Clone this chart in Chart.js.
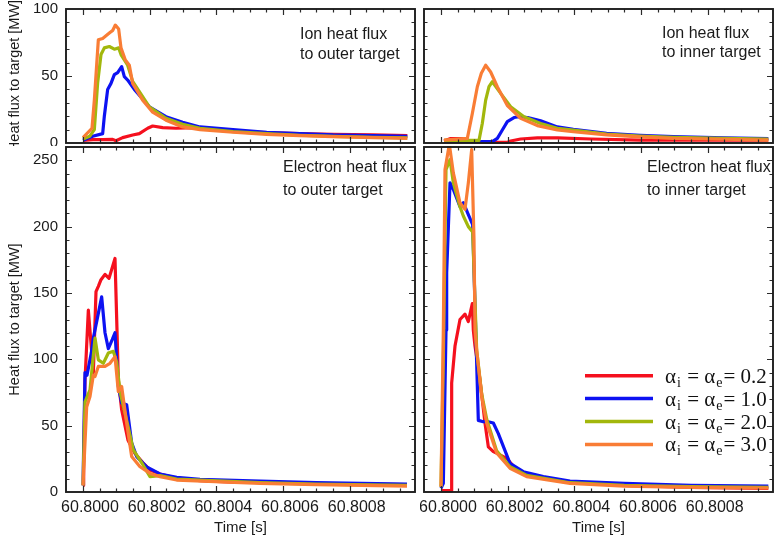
<!DOCTYPE html>
<html>
<head>
<meta charset="utf-8">
<script src="https://cdn.jsdelivr.net/npm/chart.js@4"></script>
<style>
  body { margin: 0; background: #fff; }
  #wrap { position: relative; width: 774px; height: 537px; overflow: hidden; }
  canvas { position: absolute; }
</style>
</head>
<body>
<div id="wrap">
  <canvas id="ionOuter" width="420" height="146" style="left:0;top:0"></canvas>
  <canvas id="ionInner" width="354" height="146" style="left:420px;top:0"></canvas>
  <canvas id="elecOuter" width="420" height="391" style="left:0;top:146px"></canvas>
  <canvas id="elecInner" width="354" height="391" style="left:420px;top:146px"></canvas>
</div>
<script>
// time is in microseconds after 60.8 s, values in MW
const xTickValues = [0, 200, 400, 600, 800];
const xTickLabels = ['60.8000', '60.8002', '60.8004', '60.8006', '60.8008'];
const ionTicks = [0, 50, 100];
const elecTicks = [0, 50, 100, 150, 200, 250];
const alphas = ['0.2', '1.0', '2.0', '3.0'];

// Ion heat flux to outer target
const ionOuter02 = [[0,2],[30,2.5],[60,2.5],[89,2.7],[99,1.7],[119,4],[149,6],[169,7],[194,11],[209,12.7],[239,11.5],[279,11],[339,11.5],[400,10],[470,8.5],[550,7.8],[650,7],[750,6.5],[870,6],[973,5.5]];
const ionOuter10 = [[0,2],[29,5],[59,7],[64,20],[74,40],[84,44.5],[94,51],[104,52.5],[116,57],[124,49.5],[134,47],[154,40],[199,27],[249,19.6],[299,15.5],[351,12],[450,10],[551,8],[650,7],[750,6],[870,5.5],[973,5]];
const ionOuter20 = [[0,3],[20,5],[34,10],[44,45],[54,66],[64,71],[79,72],[94,70],[107,71],[114,66],[134,58],[149,46],[199,27],[249,18.5],[299,14],[351,11],[450,8.5],[551,7],[650,5.8],[750,5],[870,4.3],[973,3.8]];
const ionOuter30 = [[0,4],[27,11],[34,32],[46,77],[59,78],[79,82],[89,84],[97,88],[107,85],[114,71],[127,62],[139,58],[149,44.5],[179,32],[209,23],[249,17],[299,12],[351,10],[450,8],[551,6.5],[650,5.5],[750,4.8],[870,4],[973,3.5]];

// Ion heat flux to inner target
const ionInner02 = [[9,1.5],[27,3.2],[69,3.2],[89,1],[150,0.5],[200,0.5],[209,1.5],[239,3],[289,3.8],[350,3.8],[450,3],[597,2.2],[800,2.2],[982,2.2]];
const ionInner10 = [[9,1],[100,1],[154,1],[169,3.5],[184,9.7],[199,16],[219,19],[234,19.6],[260,19],[299,16.6],[349,12],[397,10.2],[497,7.2],[597,5.8],[697,4.7],[850,3.8],[982,3.2]];
const ionInner20 = [[9,2],[100,2],[114,2],[124,14.7],[134,32],[144,42],[154,45.7],[179,37],[209,27],[249,19.6],[299,14.5],[349,11],[397,9.7],[497,6.7],[597,5.2],[697,4.2],[850,3.5],[982,3]];
const ionInner30 = [[9,2.2],[79,3.5],[94,22],[109,42],[121,52],[134,58],[149,53],[169,42],[199,28],[239,18.4],[289,13],[349,9.7],[397,8.4],[497,6],[597,4.6],[697,3.5],[850,2.8],[982,2.2]];

// Electron heat flux to outer target
const elecOuter02 = [[0,5],[2,16],[6,84],[16,137],[31,90],[39,151],[46,155],[54,160],[66,164],[78,161],[96,176],[102,122],[106,84.5],[116,62],[135,39],[156,29],[180,22],[201,16.6],[231,13.6],[279,10.6],[351,8.5],[450,7.5],[531,7.5],[650,6.5],[800,6],[972,5.5]];
const elecOuter10 = [[0,5],[6,90],[12,88],[25,105],[31,116],[56,147],[66,120],[76,108],[88,115],[96,120],[106,79.5],[116,67],[131,65.7],[146,37],[161,26.7],[191,19],[231,13.6],[281,11],[351,9.5],[531,8.3],[700,7],[972,6]];
const elecOuter20 = [[0,5],[6,68],[21,77],[36,116],[46,99.6],[61,97],[76,104.7],[91,106],[101,98],[111,75.7],[131,54],[151,31.7],[181,20],[201,11.6],[231,12.3],[281,9.8],[531,7],[700,6],[972,5]];
const elecOuter30 = [[0,5],[11,64],[21,72],[31,88],[36,87],[46,94.6],[66,94.6],[81,97],[96,102],[106,75.7],[116,79.5],[131,52],[146,26.7],[171,19],[201,14],[231,11.6],[281,9],[531,6.5],[700,5.5],[972,4.5]];

// Electron heat flux to inner target
const elecInner02 = [[0,1],[30,1],[32,82],[42,110],[57,130],[72,134],[82,128.5],[94,142],[97,122],[102,110],[117,84.5],[132,52],[142,34],[157,30.4],[177,28],[197,25.4],[227,16.6],[257,12.8],[387,7.3],[550,5],[750,3.5],[982,2.8]];
const elecInner10 = [[0,2.8],[7,6.5],[15,122],[17,165],[27,233],[37,228],[57,215],[67,218],[82,209],[95,201.5],[112,54],[127,53],[142,53],[157,52],[172,44],[207,21.6],[247,15.3],[307,11.6],[387,8.3],[550,6.5],[750,5],[982,4.5]];
const elecInner20 = [[0,4],[7,100],[15,243],[27,250.5],[37,233],[57,215],[67,208],[82,200],[95,196],[107,107],[122,74],[137,55],[167,31],[207,19],[257,12.5],[387,7],[550,5],[750,4],[982,3.5]];
const elecInner30 = [[0,4],[7,122],[12,243],[25,262],[37,240.5],[57,218],[72,213],[82,233],[92,258],[99,190],[102,122],[107,107],[122,72],[137,52],[167,29.4],[207,17.9],[257,11.6],[387,6.5],[550,4.5],[750,3.5],[982,3]];

const colors = ['#f5101e', '#0d12f2', '#a2b70c', '#f97d35'];
const FONT = '"Liberation Sans", Arial, sans-serif';
const SERIF = '"Liberation Serif", "Times New Roman", serif';

// box around the plot area, with inward major/minor ticks on all four sides
const framePlugin = {
  id: 'frame',
  afterDatasetsDraw(chart) {
    const { ctx, chartArea: a, scales: { x, y } } = chart;
    ctx.save();
    ctx.strokeStyle = '#2b2b2b';
    ctx.lineWidth = 1.2;
    ctx.beginPath();
    for (let t = 0; t < x.max; t += 50) {
      const px = Math.round(x.getPixelForValue(t)) + 0.5;
      const len = t % 200 === 0 ? 6 : 3.5;
      ctx.moveTo(px, a.bottom); ctx.lineTo(px, a.bottom - len);
      ctx.moveTo(px, a.top); ctx.lineTo(px, a.top + len);
    }
    for (let v = 10; v < y.max; v += 10) {
      const py = Math.round(y.getPixelForValue(v)) + 0.5;
      const len = v % 50 === 0 ? 6 : 3.5;
      ctx.moveTo(a.left, py); ctx.lineTo(a.left + len, py);
      ctx.moveTo(a.right, py); ctx.lineTo(a.right - len, py);
    }
    ctx.stroke();
    ctx.lineWidth = 1.9;
    ctx.strokeStyle = '#1e1e1e';
    ctx.strokeRect(a.left, a.top, a.right - a.left, a.bottom - a.top);
    ctx.restore();
  }
};

// panel captions
const notesPlugin = {
  id: 'notes',
  afterDraw(chart, args, opts) {
    const ctx = chart.ctx;
    ctx.save();
    ctx.fillStyle = '#1a1a1a';
    ctx.font = '16px ' + FONT;
    ctx.textBaseline = 'alphabetic';
    (opts.lines || []).forEach(l => ctx.fillText(l.text, l.x, l.y));
    ctx.restore();
  }
};

// legend with subscripts (alpha_i = alpha_e = ...)
const alphaLegend = {
  id: 'alphaLegend',
  afterDraw(chart, args, opts) {
    if (!opts.show) return;
    const ctx = chart.ctx;
    ctx.save();
    chart.data.datasets.forEach((ds, i) => {
      const yy = opts.y + i * opts.step;
      ctx.strokeStyle = ds.borderColor;
      ctx.lineWidth = 3.5;
      ctx.beginPath();
      ctx.moveTo(opts.x1, yy); ctx.lineTo(opts.x2, yy);
      ctx.stroke();

      ctx.fillStyle = '#111';
      ctx.textBaseline = 'alphabetic';
      const base = yy + 7;
      let x = opts.tx;
      const big = s => { ctx.font = '21px ' + SERIF; ctx.fillText(s, x, base); x += ctx.measureText(s).width; };
      const sub = s => { ctx.font = '14px ' + SERIF; ctx.fillText(s, x + 1, base + 4); x += ctx.measureText(s).width + 2; };
      big('\u03b1'); sub('i'); big(' = '); big('\u03b1'); sub('e'); big('= ' + ds.label);
    });
    ctx.restore();
  }
};

// keep the plot areas exactly where the panels sit
function pinScale(s, size) {
  if (s.isHorizontal()) s.height = size; else s.width = size;
  s.paddingLeft = 0; s.paddingRight = 0; s.paddingTop = 0; s.paddingBottom = 0;
}

function makePanel(id, series, cfg) {
  return new Chart(document.getElementById(id), {
    type: 'line',
    data: {
      datasets: series.map((s, i) => ({
        label: alphas[i],
        data: s.map(p => ({ x: p[0], y: p[1] })),
        borderColor: colors[i],
        borderWidth: 3.2,
        pointRadius: 0,
        tension: 0,
        borderJoinStyle: 'round',
        order: 3 - i,
        clip: 4
      }))
    },
    options: {
      responsive: false,
      animation: false,
      devicePixelRatio: 1,
      layout: { padding: cfg.padding, autoPadding: false },
      plugins: {
        legend: { display: false },
        tooltip: { enabled: false },
        notes: { lines: cfg.notes },
        alphaLegend: cfg.legend || { show: false }
      },
      scales: {
        x: {
          type: 'linear',
          min: -51,
          max: 996,
          afterBuildTicks: s => { s.ticks = xTickValues.map(v => ({ value: v })); },
          afterFit: s => pinScale(s, cfg.xHeight),
          grid: { display: false, drawTicks: false },
          border: { display: false },
          ticks: {
            display: cfg.xLabels,
            autoSkip: false,
            maxRotation: 0,
            padding: 6,
            labelOffset: 7,
            color: '#1a1a1a',
            font: { size: 16, family: FONT },
            callback: (v, i) => xTickLabels[i]
          },
          title: {
            display: cfg.xLabels,
            text: 'Time [s]',
            color: '#1a1a1a',
            font: { size: 15, family: FONT },
            padding: { top: 1, bottom: 0 }
          }
        },
        y: {
          min: 0,
          max: cfg.yMax,
          afterBuildTicks: s => { s.ticks = cfg.yTicks.map(v => ({ value: v })); },
          afterFit: s => pinScale(s, cfg.yWidth),
          grid: { display: false, drawTicks: false },
          border: { display: false },
          ticks: {
            display: cfg.yLabels,
            padding: 8,
            color: '#1a1a1a',
            font: { size: 15, family: FONT }
          },
          title: {
            display: cfg.yLabels,
            text: 'Heat flux to target [MW]',
            color: '#1a1a1a',
            font: { size: 14.5, family: FONT },
            padding: { top: 6, bottom: 0 }
          }
        }
      }
    },
    plugins: [framePlugin, notesPlugin, alphaLegend]
  });
}

makePanel('ionOuter', [ionOuter02, ionOuter10, ionOuter20, ionOuter30], {
  padding: { top: 9, right: 5, left: 0, bottom: 0 },
  yMax: 100, yTicks: ionTicks, yWidth: 66, yLabels: true, xHeight: 3, xLabels: false,
  notes: [{ text: 'Ion heat flux', x: 300, y: 38.5 }, { text: 'to outer target', x: 300, y: 58.5 }]
});
makePanel('ionInner', [ionInner02, ionInner10, ionInner20, ionInner30], {
  padding: { top: 9, right: 1, left: 0, bottom: 0 },
  yMax: 100, yTicks: ionTicks, yWidth: 4, yLabels: false, xHeight: 3, xLabels: false,
  notes: [{ text: 'Ion heat flux', x: 242, y: 37.5 }, { text: 'to inner target', x: 242, y: 57 }]
});
makePanel('elecOuter', [elecOuter02, elecOuter10, elecOuter20, elecOuter30], {
  padding: { top: 1, right: 5, left: 0, bottom: 0 },
  yMax: 260, yTicks: elecTicks, yWidth: 66, yLabels: true, xHeight: 45, xLabels: true,
  notes: [{ text: 'Electron heat flux', x: 283, y: 25.5 }, { text: 'to outer target', x: 283, y: 49 }]
});
makePanel('elecInner', [elecInner02, elecInner10, elecInner20, elecInner30], {
  padding: { top: 1, right: 1, left: 0, bottom: 0 },
  yMax: 260, yTicks: elecTicks, yWidth: 4, yLabels: false, xHeight: 45, xLabels: true,
  notes: [{ text: 'Electron heat flux', x: 227, y: 26 }, { text: 'to inner target', x: 227, y: 49 }],
  legend: { show: true, x1: 165, x2: 233, y: 229.7, step: 22.9, tx: 245 }
});
</script>
</body>
</html>
